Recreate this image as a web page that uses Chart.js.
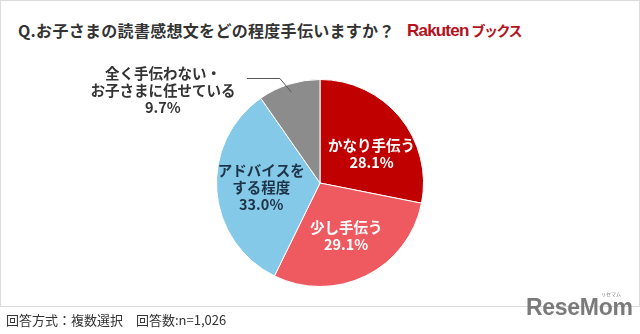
<!DOCTYPE html>
<html>
<head>
<meta charset="utf-8">
<script src="https://cdn.jsdelivr.net/npm/chart.js@4"></script>
<style>
  html, body { margin: 0; padding: 0; background: #fff; }
  body { width: 640px; height: 334px; position: relative; overflow: hidden;
         font-family: "Noto Sans CJK JP", "Noto Sans", sans-serif; }
  #frame { position: absolute; left: 0; top: 0; width: 638px; height: 305px;
           border: 1px solid #dcdcdc; }
  #title { position: absolute; left: 18px; top: 18px; font-size: 16px; font-weight: bold;
           color: #333; letter-spacing: 0.3px; white-space: nowrap; }
  #rakuten { position: absolute; left: 407px; top: 17px; color: #b5121b; white-space: nowrap; }
  #rakuten .r { font-family: "Liberation Sans", sans-serif; font-size: 17px; font-weight: bold; letter-spacing: -0.8px; }
  #rakuten .b { font-size: 14px; font-weight: bold; margin-left: 3px; letter-spacing: -1.5px; }
  #footer { position: absolute; left: 6px; top: 310px; font-size: 13px; color: #333; white-space: nowrap; }
  #resemom { position: absolute; left: 526px; top: 294px; font-family: "Liberation Sans", sans-serif;
             font-size: 23px; font-weight: bold; color: #7a7a7a; letter-spacing: -0.3px; }
  #resemom small { position: absolute; left: 75px; top: -4px; font-size: 5px; font-family: "Noto Sans CJK JP"; font-weight: normal; letter-spacing: 0; }
  #wrap { position: absolute; left: 0; top: 0; width: 640px; height: 334px; }
</style>
</head>
<body>
<div id="frame"></div>
<div id="title">Q.お子さまの読書感想文をどの程度手伝いますか？</div>
<div id="rakuten"><span class="r">Rakuten</span><span class="b">ブックス</span></div>
<div id="wrap"><canvas id="myChart"></canvas></div>
<div id="footer">回答方式：複数選択　回答数:n=1,026</div>
<div id="resemom">ReseMom<small>リセマム</small></div>
<script>
// カテゴリと値（％）
var labels = [['かなり手伝う'], ['少し手伝う'], ['アドバイスを', 'する程度'], ['全く手伝わない・', 'お子さまに任せている']];
var values = [28.1, 29.1, 33.0, 9.7];
var colors = ['#c00000', '#ee5a60', '#85c9e9', '#8c8c8c'];
var textColors = ['#ffffff', '#ffffff', '#1e3447', '#333333'];

// スライス内ラベルと外側ラベル（最後のスライス）
const labelPlugin = {
    id: 'sliceLabels',
    afterDatasetsDraw(chart) {
        const ctx = chart.ctx;
        const meta = chart.getDatasetMeta(0);
        ctx.save();
        ctx.textAlign = 'center';
        ctx.textBaseline = 'middle';
        meta.data.forEach(function (arc, i) {
            const p = arc.getProps(['x', 'y', 'startAngle', 'endAngle', 'outerRadius'], true);
            const mid = (p.startAngle + p.endAngle) / 2;
            const lines = labels[i].concat([values[i].toFixed(1) + '%']);
            const lh = 17;
            let cx, cy;
            if (values[i] < 15) {
                // 外側ラベル＋引き出し線
                const r = p.outerRadius;
                const sx = p.x + Math.cos(mid) * r * 0.92, sy = p.y + Math.sin(mid) * r * 0.92;
                const ex = p.x + Math.cos(mid) * r - 9, ey = p.y - r - 1;
                ctx.strokeStyle = '#555';
                ctx.lineWidth = 1;
                ctx.beginPath();
                ctx.moveTo(sx, sy);
                ctx.lineTo(ex, ey);
                ctx.lineTo(ex - 33, ey);
                ctx.stroke();
                cx = ex - 117;
                cy = ey + 12;
            } else {
                const rr = p.outerRadius * 0.57;
                cx = p.x + Math.cos(mid) * rr;
                cy = p.y + Math.sin(mid) * rr;
                if (i === 0) { cx += 6; cy += 8; }
            }
            ctx.fillStyle = textColors[i];
            ctx.font = 'bold 14.5px "Noto Sans CJK JP"';
            const top = cy - (lines.length - 1) * lh / 2;
            lines.forEach(function (t, k) {
                ctx.fillText(t, cx, top + k * lh);
            });
        });
        ctx.restore();
    }
};

const chartData = {
    labels: labels.map(l => l.join('')),
    datasets: [{
        data: values,
        backgroundColor: colors,
        borderColor: '#ffffff',
        borderWidth: 1
    }]
};

const config = {
    type: 'pie',
    data: chartData,
    options: {
        responsive: true,
        maintainAspectRatio: false,
        animation: false,
        layout: { padding: { top: 79, bottom: 47, left: 216, right: 216 } },
        plugins: { legend: { display: false }, tooltip: { enabled: false } }
    },
    plugins: [labelPlugin]
};

const ctx = document.getElementById('myChart').getContext('2d');
const myChart = new Chart(ctx, config);
</script>
</body>
</html>
